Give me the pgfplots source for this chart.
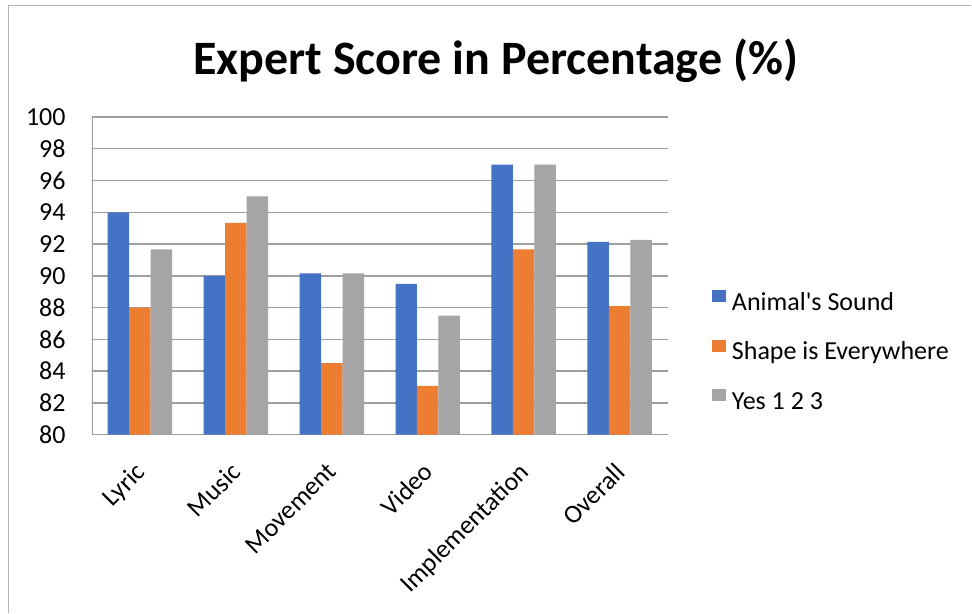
\documentclass[border=0pt]{standalone}
\usepackage{pgfplots}
\pgfplotsset{compat=1.18}
\usepackage{fontspec}
\setmainfont{Carlito}[Ligatures=TeXReset]
\definecolor{cblue}{HTML}{4472C4}
\definecolor{corange}{HTML}{ED7D31}
\definecolor{cgray}{HTML}{A5A5A5}
\definecolor{gridgray}{HTML}{9F9F9F}
\definecolor{bordergray}{HTML}{B4B4B4}
\begin{document}
\begin{tikzpicture}
\begin{axis}[
  name=main,
  at={(0pt,0pt)}, anchor=south west,
  scale only axis, width=288pt, height=159pt,
  ybar=0pt, bar width=10.75pt,
  xmin=-0.5, xmax=5.5, ymin=80, ymax=100,
  xtick=data,
  xticklabels={Lyric,Music,Movement,Video,Implementation,Overall},
  ytick={80,82,...,100},
  ymajorgrids,
  grid style={gridgray, line width=0.75pt},
  axis line style={draw=none},
  major tick length=0pt,
  tick style={draw=none},
  /pgf/number format/assume math mode=true,
  tick label style={font=\fontsize{13pt}{15pt}\selectfont},
  yticklabel style={anchor=east, inner sep=0pt, xshift=-13pt},
  xticklabel style={xshift=-3pt, yshift=-13pt, rotate=45, anchor=north east, inner sep=0pt},
  legend style={at={(1.0764,0.258)}, anchor=west, draw=none, fill=none, inner sep=0pt,
    font=\fontsize{13pt}{15pt}\selectfont, row sep=11.5pt, column sep=3pt,
    nodes={inner sep=0pt, text height=9pt, text depth=3pt}},
  legend cell align=left,
  legend image code/.code={\fill[#1] (0pt,1.2pt) rectangle (7pt,7.2pt);},
]
\addplot[fill=cblue, draw=none] coordinates {(0,94.0) (1,90.0) (2,90.15) (3,89.5) (4,97.0) (5,92.13)};
\addplot[fill=corange, draw=none] coordinates {(0,88.0) (1,93.33) (2,84.5) (3,83.08) (4,91.67) (5,88.1)};
\addplot[fill=cgray, draw=none] coordinates {(0,91.67) (1,95.0) (2,90.15) (3,87.5) (4,97.0) (5,92.27)};
\legend{Animal's Sound, Shape is Everywhere, Yes 1 2 3}
\draw[gridgray, line width=0.75pt] (rel axis cs:0,0) -- (rel axis cs:0,1);
\end{axis}
\begin{scope}[x=0.5pt,y=0.5pt, shift={(-92*0.5pt,-178*0.5pt)}]
\path (0,0) rectangle (972,613);
\draw[bordergray, line width=0.6pt] (8.5,0) -- (8.5,607.5) -- (972,607.5);
\node[anchor=base, font=\fontsize{24pt}{28pt}\bfseries\selectfont] at (496,538) {Expert Score in Percentage (\%)};
\end{scope}
\end{tikzpicture}
\end{document}
